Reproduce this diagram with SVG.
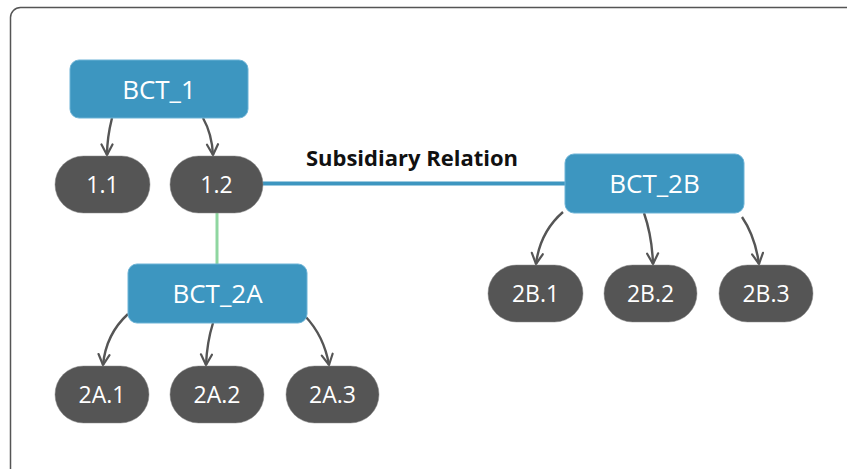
<svg xmlns="http://www.w3.org/2000/svg" width="847" height="469" viewBox="0 0 847 469">
<defs>
<marker id="arr" viewBox="0 0 14 14" refX="12.5" refY="7" markerWidth="14" markerHeight="14" markerUnits="userSpaceOnUse" orient="auto">
<path d="M2,1.5 L12.5,7 L2,12.5" fill="none" stroke="#555" stroke-width="2.2" stroke-linejoin="miter" stroke-linecap="round"/>
</marker>
<style>
.bct{fill:#3d96c0;stroke:#6db3d6;stroke-width:1}
.leaf{fill:#555555;stroke:#888;stroke-width:0.5}
.t{font-family:"Open Sans","Noto Sans",sans-serif;fill:#fff;text-anchor:middle;font-weight:500}
.tb{font-size:26px}
.tl{font-size:23px}
.arrow{fill:none;stroke:#555;stroke-width:2.4}
</style>
</defs>
<rect x="10.5" y="7.5" width="860" height="480" rx="10" fill="#fff" stroke="#555" stroke-width="1.5"/>
<g id="connectors">
<line x1="262" y1="183.5" x2="567" y2="183.5" stroke="#3d96c0" stroke-width="4"/>
<line x1="217" y1="212" x2="217" y2="265" stroke="#8fd6a0" stroke-width="3"/>
<path class="arrow" marker-end="url(#arr)" d="M112,118 Q107,138 107,155"/>
<path class="arrow" marker-end="url(#arr)" d="M203,118 Q212,134 213,155"/>
<path class="arrow" marker-end="url(#arr)" d="M563,212 Q540,232 536,264"/>
<path class="arrow" marker-end="url(#arr)" d="M644,213 Q652,236 653,264"/>
<path class="arrow" marker-end="url(#arr)" d="M742,217 Q755,236 759,264"/>
<path class="arrow" marker-end="url(#arr)" d="M128,314 Q106,334 103,365"/>
<path class="arrow" marker-end="url(#arr)" d="M213,323 Q207,342 206,365"/>
<path class="arrow" marker-end="url(#arr)" d="M305,316 Q324,336 329,365"/>
<text x="412" y="166" font-family="'Open Sans','Noto Sans',sans-serif" font-weight="bold" font-size="22" fill="#111" text-anchor="middle">Subsidiary Relation</text>
</g>
<g id="BCT_1"><rect class="bct" x="70" y="60" width="178" height="58" rx="9"/><text class="t tb" x="159" y="98.5">BCT_1</text></g>
<g id="n1_1"><rect class="leaf" x="55" y="156" width="95" height="57" rx="28.5"/><text class="t tl" x="102.5" y="192.5">1.1</text></g>
<g id="n1_2"><rect class="leaf" x="170" y="156" width="93" height="57" rx="28.5"/><text class="t tl" x="216.5" y="192.5">1.2</text></g>
<g id="BCT_2B"><rect class="bct" x="565" y="154" width="179" height="59" rx="9"/><text class="t tb" x="654.5" y="193">BCT_2B</text></g>
<g id="n2B_1"><rect class="leaf" x="488" y="265" width="95" height="57" rx="28.5"/><text class="t tl" x="535.5" y="301.5">2B.1</text></g>
<g id="n2B_2"><rect class="leaf" x="604" y="265" width="93" height="57" rx="28.5"/><text class="t tl" x="650.5" y="301.5">2B.2</text></g>
<g id="n2B_3"><rect class="leaf" x="719" y="265" width="94" height="57" rx="28.5"/><text class="t tl" x="766" y="301.5">2B.3</text></g>
<g id="BCT_2A"><rect class="bct" x="128" y="264" width="179" height="59" rx="9"/><text class="t tb" x="217.5" y="303">BCT_2A</text></g>
<g id="n2A_1"><rect class="leaf" x="55" y="366" width="94" height="57" rx="28.5"/><text class="t tl" x="102" y="402.5">2A.1</text></g>
<g id="n2A_2"><rect class="leaf" x="170" y="366" width="94" height="57" rx="28.5"/><text class="t tl" x="217" y="402.5">2A.2</text></g>
<g id="n2A_3"><rect class="leaf" x="286" y="366" width="93" height="57" rx="28.5"/><text class="t tl" x="332.5" y="402.5">2A.3</text></g>
</svg>
